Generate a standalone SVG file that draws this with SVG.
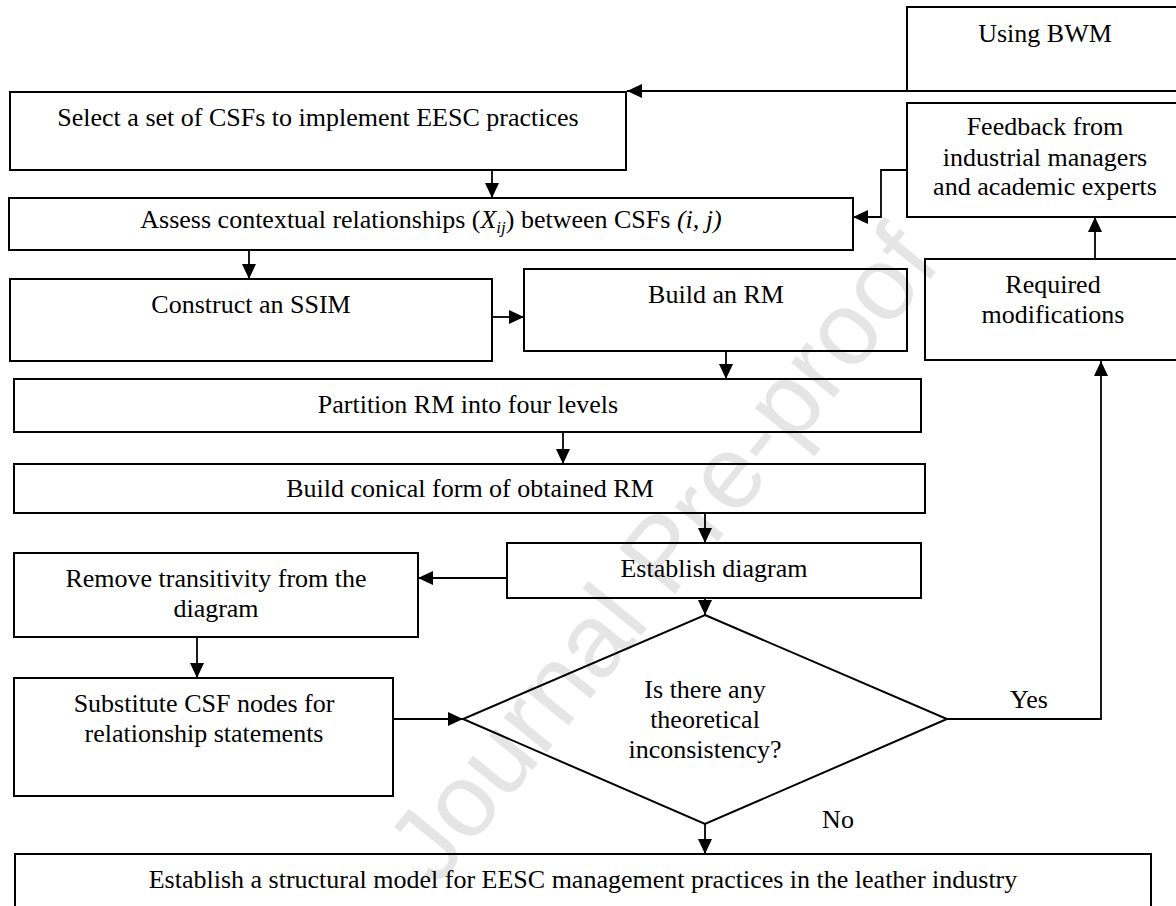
<svg xmlns="http://www.w3.org/2000/svg" width="1176" height="906" viewBox="0 0 1176 906">
<defs>
<style>
.box{fill:none;stroke:#000;stroke-width:2}
.t{font-family:"Liberation Serif","Times New Roman",serif;font-size:26px;fill:#000;text-anchor:middle}
.ln{fill:none;stroke:#000;stroke-width:1.8}
.wm{font-family:"Liberation Sans",Arial,sans-serif;font-size:104px;fill:#e5e5e5;text-anchor:middle}
</style>
<marker id="ah" markerUnits="userSpaceOnUse" markerWidth="15" markerHeight="14" refX="15" refY="7" orient="auto">
<path d="M0,0 L15,7 L0,14 z" fill="#000"/>
</marker>
</defs>
<rect width="1176" height="906" fill="#fff"/>
<text class="wm" transform="translate(660,552) rotate(-51)" y="38">Journal Pre-proof</text>

<g id="bwm"><rect class="box" x="907" y="7" width="290" height="84"/><text class="t" x="1045" y="42">Using BWM</text></g>
<g id="select"><rect class="box" x="10" y="92" width="616" height="78"/><text class="t" x="318" y="126">Select a set of CSFs to implement EESC practices</text></g>
<g id="feedback"><rect class="box" x="907" y="103" width="290" height="114"/><text class="t" x="1045" y="135">Feedback from</text><text class="t" x="1045" y="166">industrial managers</text><text class="t" x="1045" y="195">and academic experts</text></g>
<g id="assess"><rect class="box" x="9" y="198" width="844" height="52"/><text class="t" x="431" y="228">Assess contextual relationships (<tspan font-style="italic">X</tspan><tspan font-style="italic" font-size="17" dy="5">ij</tspan><tspan dy="-5">) between CSFs </tspan><tspan font-style="italic">(i, j)</tspan></text></g>
<g id="required"><rect class="box" x="925" y="259" width="272" height="101"/><text class="t" x="1053" y="293">Required</text><text class="t" x="1053" y="323">modifications</text></g>
<g id="ssim"><rect class="box" x="10" y="279" width="482" height="82"/><text class="t" x="251" y="313">Construct an SSIM</text></g>
<g id="rm"><rect class="box" x="524" y="269" width="383" height="82"/><text class="t" x="716" y="303">Build an RM</text></g>
<g id="partition"><rect class="box" x="14" y="379" width="907" height="53"/><text class="t" x="468" y="413">Partition RM into four levels</text></g>
<g id="conical"><rect class="box" x="14" y="464" width="911" height="49"/><text class="t" x="470" y="497">Build conical form of obtained RM</text></g>
<g id="establish"><rect class="box" x="507" y="543" width="414" height="55"/><text class="t" x="714" y="577">Establish diagram</text></g>
<g id="remove"><rect class="box" x="14" y="553" width="404" height="84"/><text class="t" x="216" y="587">Remove transitivity from the</text><text class="t" x="216" y="617">diagram</text></g>
<g id="substitute"><rect class="box" x="14" y="678" width="379" height="118"/><text class="t" x="204" y="712">Substitute CSF nodes for</text><text class="t" x="204" y="742">relationship statements</text></g>
<g id="decision"><polygon class="box" points="705,615 947,719 705,824 463,719"/><text class="t" x="705" y="698">Is there any</text><text class="t" x="705" y="728">theoretical</text><text class="t" x="705" y="758">inconsistency?</text></g>
<g id="final"><rect class="box" x="15" y="854" width="1136" height="70"/><text class="t" x="583" y="888">Establish a structural model for EESC management practices in the leather industry</text></g>

<g id="connectors">
<line class="ln" x1="907" y1="91" x2="627" y2="91" marker-end="url(#ah)"/>
<line class="ln" x1="492" y1="170" x2="492" y2="198" marker-end="url(#ah)"/>
<polyline class="ln" points="907,170 881,170 881,217 853,217" marker-end="url(#ah)"/>
<line class="ln" x1="1095" y1="259" x2="1095" y2="217" marker-end="url(#ah)"/>
<line class="ln" x1="249" y1="250" x2="249" y2="279" marker-end="url(#ah)"/>
<line class="ln" x1="492" y1="317" x2="524" y2="317" marker-end="url(#ah)"/>
<line class="ln" x1="726" y1="351" x2="726" y2="379" marker-end="url(#ah)"/>
<line class="ln" x1="563" y1="432" x2="563" y2="464" marker-end="url(#ah)"/>
<line class="ln" x1="705" y1="513" x2="705" y2="543" marker-end="url(#ah)"/>
<line class="ln" x1="507" y1="578" x2="418" y2="578" marker-end="url(#ah)"/>
<line class="ln" x1="197" y1="637" x2="197" y2="678" marker-end="url(#ah)"/>
<line class="ln" x1="393" y1="719" x2="463" y2="719" marker-end="url(#ah)"/>
<line class="ln" x1="705" y1="598" x2="705" y2="615" marker-end="url(#ah)"/>
<polyline class="ln" points="947,719 1101,719 1101,361" marker-end="url(#ah)"/>
<line class="ln" x1="705" y1="824" x2="705" y2="854" marker-end="url(#ah)"/>
<text class="t" x="1029" y="708">Yes</text>
<text class="t" x="838" y="828">No</text>
</g>
</svg>
